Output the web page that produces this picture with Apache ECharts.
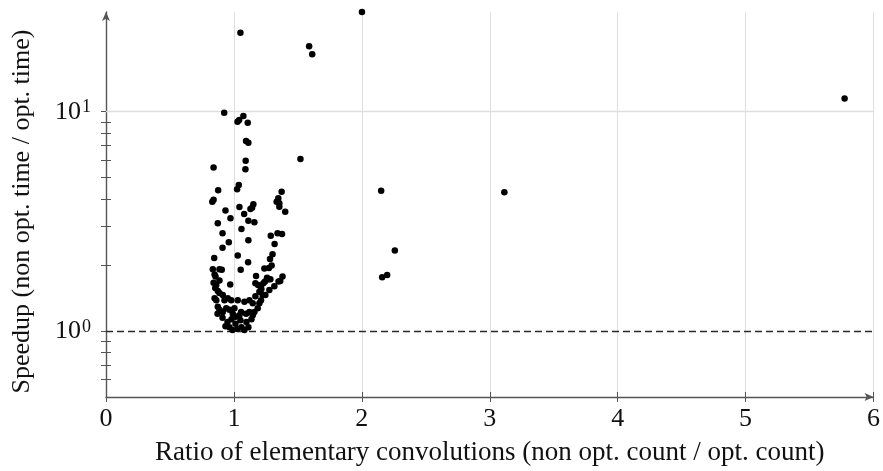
<!DOCTYPE html>
<html>
<head>
<meta charset="utf-8">
<script src="https://cdn.jsdelivr.net/npm/echarts@6/dist/echarts.min.js"></script>
<style>
  html, body { margin: 0; padding: 0; background: #fff; }
  #chart { width: 883px; height: 471px; }
</style>
</head>
<body>
<div id="chart"></div>
<script>
// Ratio of elementary convolutions (x) against measured speedup (y, log scale)
const ratio = [
  1.051, 1.588, 1.612, 2.001, 5.774, 1.520, 2.151, 3.114, 2.258, 2.159, 2.198,
  0.924, 1.074, 1.028, 1.041, 1.108, 1.095, 1.113, 1.092, 1.090, 0.841,
  1.038, 1.025, 0.877, 0.841, 0.831, 1.373, 1.347, 1.334, 1.355, 1.355, 1.401,
  0.934, 1.043, 1.152, 1.142, 1.129, 1.080, 0.973, 1.113, 1.160, 0.874, 1.059,
  0.911, 1.341, 1.376, 1.288,
  0.960, 0.911, 1.113, 1.318, 0.846, 1.030, 1.302, 1.282, 1.111, 1.295, 1.238,
  1.274, 1.053, 0.835, 0.887, 0.905, 0.849, 0.856, 0.887, 0.841, 0.862, 0.971,
  1.173, 1.168, 1.259, 1.271, 1.243, 1.285, 1.230, 1.189, 1.380, 1.362, 1.349, 1.214,
  0.854, 0.874, 0.887, 0.913, 0.849, 0.862, 0.926, 0.952, 0.979, 1.030, 1.082,
  1.121, 1.147, 1.199, 1.212, 1.225, 1.212, 1.199, 1.186, 0.874, 0.887, 0.913,
  0.940, 0.965, 0.991, 1.004, 1.043, 1.056, 1.095, 1.121, 1.147, 1.160,
  0.911, 0.950, 0.981, 1.012, 1.028, 0.989, 1.059, 1.082, 1.098, 1.051, 0.934,
  0.965, 1.113, 1.012, 1.137, 0.872, 1.277, 1.316, 1.246, 1.168
];
const speedup = [
  22.9, 19.9, 18.3, 28.5, 11.5, 6.09, 4.36, 4.29, 2.33, 1.76, 1.80,
  9.90, 9.56, 9.00, 9.17, 8.91, 7.35, 7.22, 5.98, 5.46, 5.57,
  4.63, 4.43, 4.38, 3.97, 3.89, 4.32, 4.03, 3.89, 3.82, 3.69, 3.50,
  3.54, 3.68, 3.78, 3.65, 3.60, 3.42, 3.27, 3.18, 3.13, 3.10, 2.92,
  2.79, 2.79, 2.77, 2.72,
  2.54, 2.40, 2.59, 2.49, 2.15, 2.21, 2.24, 2.13, 2.06, 1.99, 1.93,
  1.94, 1.90, 1.91, 1.91, 1.90, 1.81, 1.77, 1.70, 1.66, 1.62, 1.63,
  1.78, 1.65, 1.75, 1.72, 1.68, 1.72, 1.65, 1.62, 1.77, 1.69, 1.68, 1.55,
  1.57, 1.52, 1.49, 1.46, 1.41, 1.38, 1.38, 1.41, 1.38, 1.38, 1.36,
  1.38, 1.34, 1.51, 1.57, 1.46, 1.38, 1.34, 1.27, 1.29, 1.25, 1.22,
  1.27, 1.25, 1.20, 1.27, 1.18, 1.22, 1.20, 1.22, 1.18, 1.22,
  1.15, 1.10, 1.13, 1.08, 1.02, 1.01, 1.04, 1.01, 1.10, 1.12, 1.05,
  1.04, 1.04, 1.16, 1.13, 1.20, 1.54, 1.60, 1.46, 1.44
];

const xTicks = [0, 1, 2, 3, 4, 5, 6];
const yMajorTicks = [1, 10];
const yMinorTicks = [0.6, 0.7, 0.8, 0.9, 1, 2, 3, 4, 5, 6, 7, 8, 9, 10];
const yGridLevels = [10];
const baselineLevel = 1;

const yRange = [0.5, 28.5];
const xRange = [0, 6];

const FONT = '"Liberation Serif", "DejaVu Serif", serif';
const AXIS_COLOR = '#555555';
const GRID_COLOR = '#dedede';
const TEXT_COLOR = '#111111';

const points = ratio.map((r, i) => [r, speedup[i]]);

const powerLabel = (v) => {
  const e = Math.round(Math.log10(v));
  return '{b|10}{s|' + e + '}';
};

const chart = echarts.init(document.getElementById('chart'), null, { renderer: 'canvas' });

const baseX = {
  type: 'value',
  min: xRange[0],
  max: xRange[1],
  interval: 1,
  position: 'bottom',
  gridIndex: 0
};
const baseY = {
  type: 'log',
  logBase: 10,
  min: yRange[0],
  max: yRange[1],
  position: 'left',
  gridIndex: 0
};

chart.setOption({
  animation: false,
  backgroundColor: '#ffffff',
  grid: { left: 106, right: 6.5, top: 12, bottom: 73, containLabel: false },
  xAxis: [
    Object.assign({}, baseX, {
      name: 'Ratio of elementary convolutions (non opt. count / opt. count)',
      nameLocation: 'middle',
      nameGap: 42,
      nameTextStyle: { fontFamily: FONT, fontSize: 27, color: TEXT_COLOR },
      axisLine: {
        show: true,
        symbol: ['none', 'arrow'],
        symbolSize: [6, 9],
        lineStyle: { color: AXIS_COLOR, width: 1.4 }
      },
      axisTick: { show: true, length: 5, customValues: xTicks, lineStyle: { color: AXIS_COLOR, width: 1 } },
      axisLabel: {
        customValues: xTicks,
        margin: 9,
        fontFamily: FONT,
        fontSize: 26,
        color: TEXT_COLOR
      },
      splitLine: { show: true, lineStyle: { color: GRID_COLOR, width: 1 } }
    }),
    // inner half of the crossing x ticks
    Object.assign({}, baseX, {
      axisLine: { show: false },
      axisTick: { show: true, inside: true, length: 5, customValues: xTicks, lineStyle: { color: AXIS_COLOR, width: 1 } },
      axisLabel: { show: false },
      splitLine: { show: false }
    })
  ],
  yAxis: [
    Object.assign({}, baseY, {
      name: 'Speedup (non opt. time / opt. time)',
      nameLocation: 'middle',
      nameGap: 71,
      nameTextStyle: { fontFamily: FONT, fontSize: 26, color: TEXT_COLOR, padding: [0, 14, 0, 0] },
      axisLine: {
        show: true,
        symbol: ['none', 'arrow'],
        symbolSize: [6, 9],
        lineStyle: { color: AXIS_COLOR, width: 1.4 }
      },
      axisTick: { show: true, length: 5, customValues: yMinorTicks, lineStyle: { color: AXIS_COLOR, width: 1 } },
      axisLabel: {
        customValues: yMajorTicks,
        margin: 15,
        formatter: powerLabel,
        rich: {
          b: { fontFamily: FONT, fontSize: 26, color: TEXT_COLOR, lineHeight: 26, verticalAlign: 'bottom', padding: [5, 0, 0, 0] },
          s: { fontFamily: FONT, fontSize: 18, color: TEXT_COLOR, lineHeight: 18, verticalAlign: 'top', padding: [0, 0, 0, 1] }
        }
      },
      splitLine: { show: false }
    }),
    // inner half of the crossing y ticks
    Object.assign({}, baseY, {
      offset: 0,
      axisLine: { show: false },
      axisTick: { show: true, inside: true, length: 5, customValues: yMinorTicks, lineStyle: { color: AXIS_COLOR, width: 1 } },
      axisLabel: { show: false },
      splitLine: { show: false }
    })
  ],
  series: [
    {
      // horizontal grid at the decade and the dashed no-speedup baseline
      type: 'line',
      xAxisIndex: 0,
      yAxisIndex: 0,
      data: [],
      z: 1,
      markLine: {
        silent: true,
        z: 1,
        symbol: ['none', 'none'],
        label: { show: false },
        animation: false,
        data: [
          ...yGridLevels.map(v => ({ yAxis: v, lineStyle: { color: GRID_COLOR, width: 1.3, type: 'solid' } })),
          { yAxis: baselineLevel, lineStyle: { color: '#2a2a2a', width: 1.3, type: [7, 4] } }
        ]
      }
    },
    {
      type: 'scatter',
      xAxisIndex: 0,
      yAxisIndex: 0,
      data: points,
      symbol: 'circle',
      symbolSize: 6.5,
      itemStyle: { color: '#000000', opacity: 1 },
      z: 5
    }
  ]
});
</script>
</body>
</html>
